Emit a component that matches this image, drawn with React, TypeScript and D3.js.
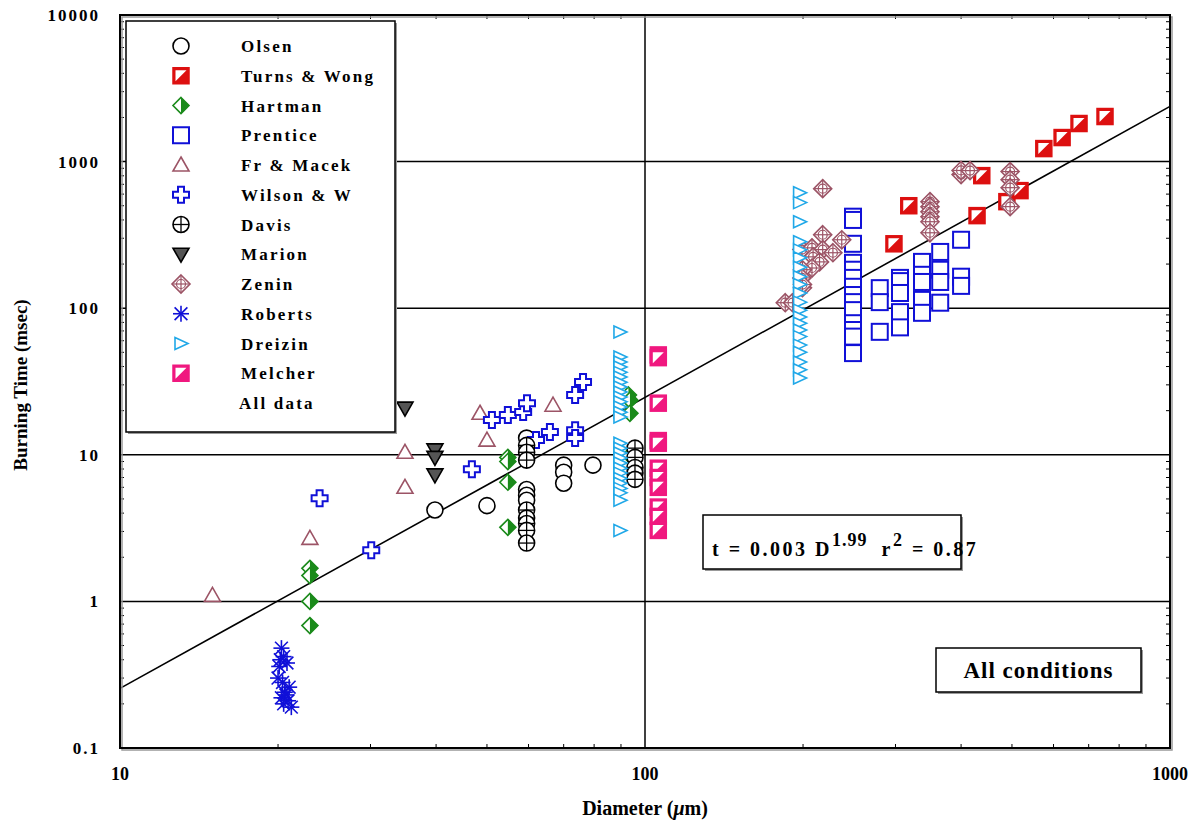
import React from "react";
import * as d3 from "d3";

type P = [number, number];

const olsen: P[] = [[39.8,4.2],[50,4.5],[59.5,13],[59.5,5.8],[59.5,5.3],[59.5,4.9],[70,8.5],[70,7.6],[70,6.4],[79.6,8.5]];
const turnsWong: P[] = [[298,275],[318,500],[438,802],[429,428],[489,533],[518,634],[575,1227],[623,1459],[671,1819],[752,2030]];
const hartman: P[] = [[23,1.68],[23,1.5],[23,1.0],[23,0.684],[54.8,9.6],[54.8,9.0],[54.8,6.5],[54.8,3.2],[93,25.6],[93.6,23.6],[93.6,19.2],[93.6,9.9]];
const prentice: P[] = [
  [249,421],[249,400],[249,275],[249,204],[249,183],[249,161],[249,140],[249,123],[249,110],[249,97],[249,79],[249,71],[249,64],[249,49.4],
  [280,137],[280,110],[280,69],
  [306,161],[306,153],[306,127],[306,94],[306,74],
  [337,207],[337,169],[337,151],[337,114],[337,93],
  [365,242],[365,183],[365,151],[365,109],
  [400,293],[400,164],[400,142]
];
const frMacek: P[] = [[15,1.1],[23,2.69],[34.9,10.4],[34.9,6.0],[48.5,19.2],[50,12.6],[66.8,21.8]];
const wilson: P[] = [[24,5.05],[30.1,2.23],[46.8,7.97],[51.1,17.3],[54.8,18.7],[58.6,19.6],[59.6,22.5],[62,12.6],[65.9,14.3],[73.6,25.6],[76.2,31.4],[73.6,14.7],[73.6,13.0]];
const davis: P[] = [[59.5,11.6],[59.5,10.4],[59.5,9.2],[59.5,4.2],[59.5,3.7],[59.5,3.4],[59.5,3.05],[59.5,2.5],[95.7,11.1],[95.7,9.6],[95.7,8.2],[95.7,7.5],[95.7,6.8]];
const marion: P[] = [[34.9,20.8],[39.8,10.8],[39.8,9.6],[39.8,7.3]];
const zenin: P[] = [[185,109],[191,109],[199,251],[208,258],[218,317],[218,251],[228,239],[237,293],[209,224],[215,207],[208,188],[199.5,183],[199,161],[199.5,138],[199.5,145],[218,654],[349,533],[349,493],[349,455],[349,421],[349,389],[349,327],[400,815],[400,870],[416,868],[496,855],[496,753],[496,664],[496,493]];
const roberts: P[] = [[20.3,0.48],[20.5,0.42],[20.2,0.40],[20.8,0.38],[20.1,0.36],[20.0,0.30],[20.4,0.28],[21.0,0.26],[20.6,0.24],[20.7,0.23],[20.3,0.22],[20.9,0.21],[20.5,0.20],[21.2,0.19]];
const dreizin: P[] = [
  [89.6,68.9],[89.6,46.5],[89.6,43],[89.6,39.7],[89.6,36.5],[89.6,33.9],[89.6,31.3],[89.6,29.0],[89.6,26.8],[89.6,24.8],[89.6,23],[89.6,21.2],[89.6,19.5],[89.6,18.1],
  [89.6,12.0],[89.6,11.1],[89.6,10.3],[89.6,9.5],[89.6,8.8],[89.6,8.1],[89.6,7.5],[89.6,6.9],[89.6,6.4],[89.6,5.9],[89.6,5.5],[89.6,4.9],[89.6,3.05],
  [197,614],[197,525],[197,389],[197,284],[197,250],[197,221],[197,190],[197,164],[197,145],[197,127],[197,110],[197,97],[197,87],[197,79],[197,71],[197,64],[197,56],[197,50],[197,43],[197,38],[197,33.4]
];
const melcher: P[] = [[106,48],[106,46],[106,22.5],[106,12.5],[106,12.0],[106,8.1],[106,7.0],[106,6.0],[106,4.4],[106,3.8],[106,3.05]];
const fitLine: P[] = [[10,0.255],[1000,2380]];

const xTicks = [10, 100, 1000];
const yTicks = [0.1, 1, 10, 100, 1000, 10000];

const C = {
  olsen: "#000000", turns: "#DD1010", hartman: "#1A8A1A", prentice: "#1010D8",
  fr: "#9C5466", wilson: "#1010D8", davis: "#000000", marion: "#000000",
  zenin: "#9C5466", roberts: "#1010D8", dreizin: "#20A8E8", melcher: "#F0187F",
};

type Kind = "circle"|"halfsq"|"halfdia"|"square"|"tri"|"cross"|"davis"|"marion"|"zenin"|"star"|"rtri";

function Marker({ kind, color, x, y }: { kind: Kind; color: string; x: number; y: number }) {
  const s = 8;
  const sw = 1.6;
  switch (kind) {
    case "circle":
      return <circle cx={x} cy={y} r={s} fill="white" stroke={color} strokeWidth={sw} />;
    case "davis":
      return (<g>
        <circle cx={x} cy={y} r={s} fill="white" stroke={color} strokeWidth={sw} />
        <line x1={x - s} x2={x + s} y1={y} y2={y} stroke={color} strokeWidth={1.3} />
        <line x1={x} x2={x} y1={y - s} y2={y + s} stroke={color} strokeWidth={1.3} />
      </g>);
    case "square":
      return <rect x={x - s} y={y - s} width={2 * s} height={2 * s} fill="white" stroke={color} strokeWidth={2} />;
    case "halfsq":
      return (<g>
        <rect x={x - s} y={y - s} width={2 * s} height={2 * s} fill={color} stroke={color} strokeWidth={1.5} />
        <path d={`M${x - s + 2.5},${y + s - 2.5}L${x - s + 2.5},${y - s + 2.5}L${x + s - 2.5},${y - s + 2.5}Z`} fill="white" />
      </g>);
    case "halfdia":
      return (<g>
        <path d={`M${x},${y - s}L${x + s},${y}L${x},${y + s}L${x - s},${y}Z`} fill="white" stroke={color} strokeWidth={sw} />
        <path d={`M${x},${y - s}L${x + s},${y}L${x},${y + s}Z`} fill={color} />
      </g>);
    case "tri":
      return <path d={`M${x},${y - s}L${x + s},${y + s * 0.75}L${x - s},${y + s * 0.75}Z`} fill="white" stroke={color} strokeWidth={sw} />;
    case "marion":
      return <path d={`M${x - s},${y - s * 0.75}L${x + s},${y - s * 0.75}L${x},${y + s}Z`} fill="#555" stroke="#000" strokeWidth={sw} />;
    case "rtri":
      return <path d={`M${x - 6},${y - 6}L${x + 7},${y}L${x - 6},${y + 6}Z`} fill="white" stroke={color} strokeWidth={sw} />;
    case "cross": {
      const a = 3, b = 8;
      const d = `M${x - a},${y - b}H${x + a}V${y - a}H${x + b}V${y + a}H${x + a}V${y + b}H${x - a}V${y + a}H${x - b}V${y - a}H${x - a}Z`;
      return <path d={d} fill="white" stroke={color} strokeWidth={2} />;
    }
    case "zenin":
      return (<g>
        <path d={`M${x},${y - 9}L${x + 9},${y}L${x},${y + 9}L${x - 9},${y}Z`} fill="white" stroke={color} strokeWidth={sw} />
        <circle cx={x} cy={y} r={4.5} fill="none" stroke={color} strokeWidth={1.2} />
        <line x1={x - 9} x2={x + 9} y1={y} y2={y} stroke={color} strokeWidth={1.2} />
        <line x1={x} x2={x} y1={y - 9} y2={y + 9} stroke={color} strokeWidth={1.2} />
      </g>);
    case "star": {
      const r = 8;
      return (<g stroke={color} strokeWidth={1.6}>
        <line x1={x} x2={x} y1={y - r} y2={y + r} />
        <line x1={x - r} x2={x + r} y1={y} y2={y} />
        <line x1={x - r * 0.8} x2={x + r * 0.8} y1={y - r * 0.8} y2={y + r * 0.8} />
        <line x1={x - r * 0.8} x2={x + r * 0.8} y1={y + r * 0.8} y2={y - r * 0.8} />
      </g>);
    }
  }
  return null;
}

const series: { name: string; kind: Kind; color: string; data: P[] }[] = [
  { name: "Olsen", kind: "circle", color: C.olsen, data: olsen },
  { name: "Turns & Wong", kind: "halfsq", color: C.turns, data: turnsWong },
  { name: "Hartman", kind: "halfdia", color: C.hartman, data: hartman },
  { name: "Prentice", kind: "square", color: C.prentice, data: prentice },
  { name: "Fr & Macek", kind: "tri", color: C.fr, data: frMacek },
  { name: "Wilson & W", kind: "cross", color: C.wilson, data: wilson },
  { name: "Davis", kind: "davis", color: C.davis, data: davis },
  { name: "Marion", kind: "marion", color: C.marion, data: marion },
  { name: "Zenin", kind: "zenin", color: C.zenin, data: zenin },
  { name: "Roberts", kind: "star", color: C.roberts, data: roberts },
  { name: "Dreizin", kind: "rtri", color: C.dreizin, data: dreizin },
  { name: "Melcher", kind: "halfsq", color: C.melcher, data: melcher },
];

export default function App() {
  const L = 120, R = 1170, T = 15, B = 748;
  const x = d3.scaleLog().domain([10, 1000]).range([L, R]);
  const y = d3.scaleLog().domain([0.1, 10000]).range([B, T]);
  const font = "'Liberation Serif', 'Times New Roman', serif";
  const line = d3.line<P>().x(d => x(d[0])).y(d => y(d[1]));

  const xMinor: number[] = [];
  for (const dec of [10, 100]) for (let k = 2; k <= 9; k++) xMinor.push(dec * k);
  const yMinor: number[] = [];
  for (const dec of [0.1, 1, 10, 100, 1000]) for (let k = 2; k <= 9; k++) yMinor.push(dec * k);

  const legX = 126, legY = 21, legW = 269, legH = 411;
  const rowY = (i: number) => 46 + i * 29.75;

  return (
    <svg width={1192} height={825} style={{ display: "block", position: "absolute", left: 0, top: 0 }} fontFamily={font}>
      <rect x={0} y={0} width={1192} height={825} fill="white" />
      {yTicks.slice(1, -1).map(t => (
        <line key={"gy" + t} x1={L} x2={R} y1={y(t)} y2={y(t)} stroke="#000" strokeWidth={1.5} />
      ))}
      <line x1={x(100)} x2={x(100)} y1={T} y2={B} stroke="#000" strokeWidth={1.5} />
      {xMinor.map(v => (
        <g key={"xm" + v}>
          <line x1={x(v)} x2={x(v)} y1={B} y2={B - 4} stroke="#000" strokeWidth={1} />
          <line x1={x(v)} x2={x(v)} y1={T} y2={T + 4} stroke="#000" strokeWidth={1} />
        </g>
      ))}
      {yMinor.map(v => (
        <g key={"ym" + v}>
          <line x1={L} x2={L + 4} y1={y(v)} y2={y(v)} stroke="#000" strokeWidth={1} />
          <line x1={R} x2={R - 4} y1={y(v)} y2={y(v)} stroke="#000" strokeWidth={1} />
        </g>
      ))}
      <path d={line(fitLine) || ""} fill="none" stroke="#000" strokeWidth={1.6} />
      {series.map(s => (
        <g key={s.name}>
          {s.data.map((p, i) => <Marker key={i} kind={s.kind} color={s.color} x={x(p[0])} y={y(p[1])} />)}
        </g>
      ))}
      <rect x={L + 2} y={T + 2} width={R - L} height={B - T} fill="none" stroke="#999" strokeWidth={1.5} />
      <rect x={L} y={T} width={R - L} height={B - T} fill="none" stroke="#000" strokeWidth={2} />
      <rect x={legX + 2} y={legY + 2} width={legW} height={legH} fill="#999" />
      <rect x={legX} y={legY} width={legW} height={legH} fill="white" stroke="#000" strokeWidth={1.5} />
      {series.map((s, i) => (
        <g key={"leg" + s.name}>
          <Marker kind={s.kind} color={s.color} x={181} y={rowY(i)} />
          <text x={241} y={rowY(i) + 6} fontSize={17} fontWeight="bold" letterSpacing={2.2}>{s.name}</text>
        </g>
      ))}
      <text x={239} y={rowY(12) + 6} fontSize={17} fontWeight="bold" letterSpacing={2.2}>All data</text>
      <rect x={705} y={517} width={258} height={54} fill="#999" />
      <rect x={703} y={515} width={258} height={54} fill="white" stroke="#000" strokeWidth={1.5} />
      <text x={712} y={556} fontSize={20} fontWeight="bold" letterSpacing={2.5}>
        <tspan>t = 0.003 D</tspan>
        <tspan dy={-10} fontSize={18} letterSpacing={1}>1.99</tspan>
        <tspan dy={10} dx={14}>r</tspan>
        <tspan dy={-10} fontSize={18}>2</tspan>
        <tspan dy={10}> = 0.87</tspan>
      </text>
      <rect x={938} y={650} width={205} height={44} fill="#999" />
      <rect x={936} y={648} width={205} height={44} fill="white" stroke="#000" strokeWidth={1.5} />
      <text x={1038.5} y={678} fontSize={23} fontWeight="bold" textAnchor="middle" letterSpacing={1}>All conditions</text>
      {yTicks.map(t => (
        <text key={"yl" + t} x={100} y={y(t) + 6} fontSize={17} fontWeight="bold" textAnchor="end" letterSpacing={2}>{String(t)}</text>
      ))}
      {xTicks.map(t => (
        <text key={"xl" + t} x={x(t)} y={780} fontSize={18} fontWeight="bold" textAnchor="middle">{String(t)}</text>
      ))}
      <text x={645} y={815} fontSize={20} fontWeight="bold" textAnchor="middle">
        Diameter (<tspan fontStyle="italic">μ</tspan>m)
      </text>
      <text transform="translate(27,385) rotate(-90)" fontSize={19} fontWeight="bold" textAnchor="middle">Burning Time (msec)</text>
    </svg>
  );
}
